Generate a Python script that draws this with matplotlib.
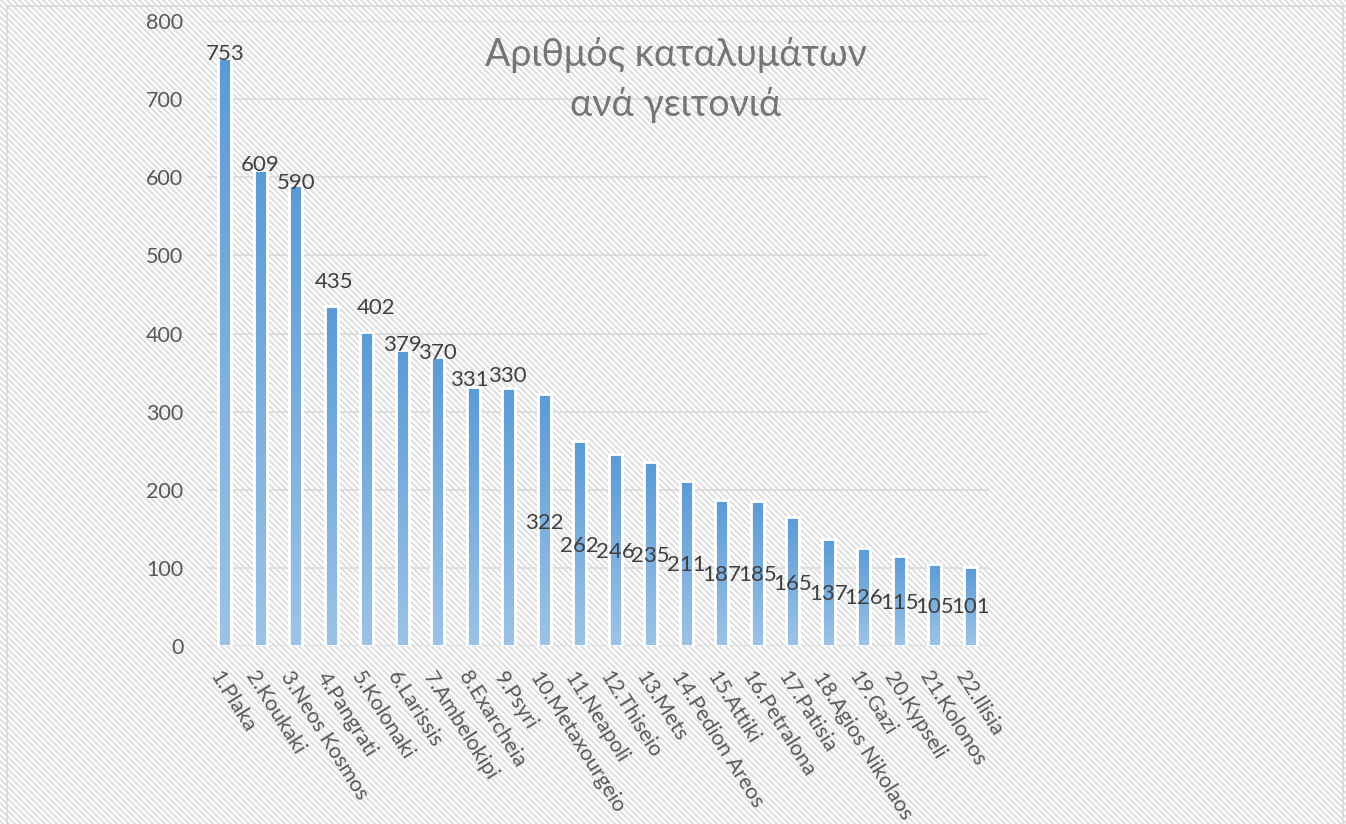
import numpy as np
import matplotlib
matplotlib.use("Agg")
import matplotlib.pyplot as plt
from matplotlib.colors import LinearSegmentedColormap
from matplotlib.patches import Rectangle
from matplotlib import transforms

plt.rcParams['font.family'] = ['Lato', 'Open Sans', 'DejaVu Sans']

# --- data ---------------------------------------------------------------
neighbourhoods = ["1.Plaka", "2.Koukaki", "3.Neos Kosmos", "4.Pangrati", "5.Kolonaki",
                  "6.Larissis", "7.Ambelokipi", "8.Exarcheia", "9.Psyri",
                  "10.Metaxourgeio", "11.Neapoli", "12.Thiseio", "13.Mets",
                  "14.Pedion Areos", "15.Attiki", "16.Petralona", "17.Patisia",
                  "18.Agios Nikolaos", "19.Gazi", "20.Kypseli", "21.Kolonos", "22.Ilisia"]
listings = [753, 609, 590, 435, 402, 379, 370, 331, 330, 322, 262, 246, 235, 211,
            187, 185, 165, 137, 126, 115, 105, 101]
y_ticks = [0, 100, 200, 300, 400, 500, 600, 700, 800]
title = "Αριθμός καταλυμάτων\nανά γειτονιά"

# where each value label sits (data units along y, category offset along x)
label_y = [758, 616, 593, 466, 433, 385, 375, 340, 345, 157, 128, 120, 115, 104,
           91, 91, 80, 67, 61, 55, 50, 50]
label_dx = [0, 0, 0, 0.08, 0.25, 0, 0, -0.12, -0.05, 0, 0, 0, 0, 0,
            0, 0, 0, 0, 0, 0, 0, 0]

# --- figure -------------------------------------------------------------
W, H = 1346, 824
fig = plt.figure(figsize=(W / 100, H / 100), dpi=100)
fig.patch.set_facecolor("white")

# diagonal striped chart-area fill
yy, xx = np.mgrid[0:H, 0:W]
stripe = ((xx - yy) % 6) < 3
bg = np.ones((H, W, 3))
bg[stripe] = np.array([224, 224, 224]) / 255
fig.figimage(bg, xo=0, yo=0, zorder=-5)

# outer border
fig.add_artist(Rectangle((7 / W, -0.05), (1343 - 7) / W, 1.05 - 6 / H,
                         transform=fig.transFigure, fill=False,
                         edgecolor="#d9d9d9", linewidth=1.2))

ax = fig.add_axes([207 / W, (H - 646) / H, (988 - 207) / W, (646 - 21) / H])
ax.set_facecolor("none")
for s in ax.spines.values():
    s.set_visible(False)

ax.set_yticks(y_ticks)
ax.set_yticklabels([str(t) for t in y_ticks])
ax.tick_params(axis="y", length=0, pad=17, labelsize=15.5, labelcolor="#595959")
ax.set_xticks([])
ax.grid(False)
for t in y_ticks:
    ax.axhline(t, color="#d9d9d9", linewidth=1.1, zorder=1)

# bars with vertical gradient fill
cmap = LinearSegmentedColormap.from_list("blue_grad", ["#9dc3e6", "#5b9bd5"])
grad = np.linspace(0, 1, 256).reshape(-1, 1)
bw = 0.36
bars = ax.bar(range(len(listings)), listings, width=bw, facecolor="none",
              edgecolor="white", linewidth=2, zorder=4)
for rect in bars:
    x0, h = rect.get_x(), rect.get_height()
    ax.imshow(grad, cmap=cmap, origin="lower", aspect="auto",
              extent=[x0, x0 + bw, 0, h], zorder=3, interpolation="bilinear")
ax.set_xlim(-0.5, len(listings) - 0.5)
ax.set_ylim(0, 800)

# value labels
for i, v in enumerate(listings):
    ax.text(i + label_dx[i], label_y[i], str(v), ha="center", va="center",
            fontsize=16, color="#404040", zorder=6)

# rotated category labels
offset = transforms.ScaledTranslation(-2 / 100, -22 / 100, fig.dpi_scale_trans)
for i, name in enumerate(neighbourhoods):
    ax.text(i, 0, name, rotation=-58, rotation_mode="anchor", ha="left", va="top",
            fontsize=15.5, color="#595959",
            transform=ax.transData + offset, clip_on=False)

fig.text(676 / W, 1 - 80 / H, title, ha="center", va="center", fontsize=27,
         color="#757575", linespacing=1.5)

fig.savefig("out.png", dpi=100)
